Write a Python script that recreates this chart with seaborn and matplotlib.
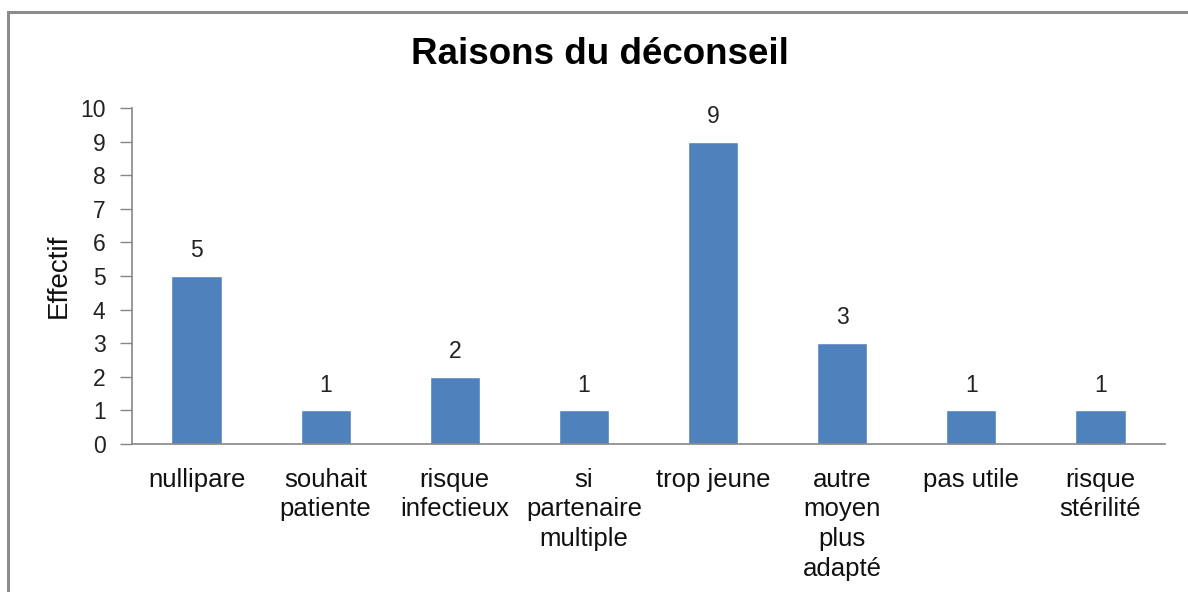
import matplotlib
matplotlib.use("Agg")
import matplotlib.pyplot as plt
import seaborn as sns
import pandas as pd
from matplotlib.patches import Rectangle

categories = ["nullipare", "souhait\npatiente", "risque\ninfectieux", "si\npartenaire\nmultiple",
              "trop jeune", "autre\nmoyen\nplus\nadapté", "pas utile", "risque\nstérilité"]
values = [5, 1, 2, 1, 9, 3, 1, 1]
yticks = list(range(0, 11))

sns.set_theme(style="white")
plt.rcParams["font.family"] = ["Liberation Sans", "DejaVu Sans"]

df = pd.DataFrame({"cat": categories, "val": values})

fig = plt.figure(figsize=(11.88, 5.92), dpi=100)
ax = fig.add_axes([132/1188, 1-444/592, (1165-132)/1188, (444-108)/592])

sns.barplot(data=df, x="cat", y="val", color="#4F81BD", saturation=1, width=0.39, ax=ax)

ax.set_xlim(-0.5, len(categories)-0.5)
ax.set_ylim(0, 10)
ax.set_yticks(yticks)
ax.set_yticklabels([str(t) for t in yticks], fontsize=16.5, color="#222222")
ax.tick_params(axis="y", left=True, length=9, width=1, color="#868686", pad=10)
ax.tick_params(axis="x", bottom=False, pad=11)
for lab in ax.get_xticklabels():
    lab.set_fontsize(18.5)
    lab.set_color("#111111")
    lab.set_linespacing(1.3)
    lab.set_verticalalignment("top")

for s in ["top", "right"]:
    ax.spines[s].set_visible(False)
for s in ["left", "bottom"]:
    ax.spines[s].set_color("#868686")
    ax.spines[s].set_linewidth(1.2)

ax.set_xlabel("")
ax.set_ylabel("Effectif", fontsize=20, color="#111111", labelpad=6)

for i, v in enumerate(values):
    ax.annotate(str(v), (i, v), xytext=(0, 10), textcoords="offset points",
                ha="center", va="bottom", fontsize=16.5, color="#222222")

fig.text(600/1188, 1-55/592, "Raisons du déconseil", ha="center", va="center",
         fontsize=26.5, fontweight="bold", color="#000000")

frame = Rectangle((8/1188, -0.1), 1.2, 1-12/592+0.1, transform=fig.transFigure,
                  fill=False, edgecolor="#8c8c8c", linewidth=2.2)
fig.add_artist(frame)

fig.savefig("out.png", dpi=100, facecolor="white")
